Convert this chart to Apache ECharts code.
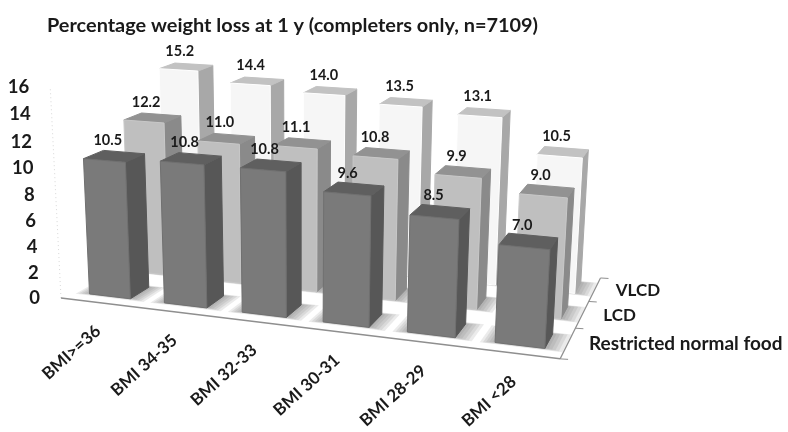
<!DOCTYPE html>
<html>
<head>
<meta charset="utf-8">
<style>html,body{margin:0;padding:0;background:#fff}#c{width:788px;height:432px}</style>
<script src="https://cdn.jsdelivr.net/npm/echarts@6/dist/echarts.min.js"></script>
</head>
<body>
<div id="c"></div>
<script>
const titleText = 'Percentage weight loss at 1 y (completers only, n=7109)';
const categories = ['BMI>=36', 'BMI 34-35', 'BMI 32-33', 'BMI 30-31', 'BMI 28-29', 'BMI <28'];
const rowNames = ['Restricted normal food', 'LCD', 'VLCD'];
const rowFontSizes = [19, 17, 17];
const restricted = [10.5, 10.8, 10.8, 9.6, 8.5, 7.0];
const lcd = [12.2, 11.0, 11.1, 10.8, 9.9, 9.0];
const vlcd = [15.2, 14.4, 14.0, 13.5, 13.1, 10.5];
const valueTicks = [0, 2, 4, 6, 8, 10, 12, 14, 16];

// Perspective camera: homogeneous columns for world X (category), Y (value), Z (depth)
const CX = [72.5, 3.30, -0.01907], CY = [-0.806, -13.41, -0.00266], CZ = [50.9, -5.84, 0.0649], O = [61, 298, 1];
function P(X, Y, Z) {
  const h = [0, 1, 2].map(k => O[k] + X * CX[k] + Y * CY[k] + Z * CZ[k]);
  return [h[0] / h[2] - 2.3 * Z * Math.max(0, 1 - X / 5), h[1] / h[2] - 0.165 * Y * Z];
}
const BAR_X = [0.24, 0.79], BAR_Z = [0.25, 0.72];
const FONT = 'Lato, "Open Sans", sans-serif';
const SHADOW_SPREAD = [0.20, 0.16, 0.12, 0.08, 0.04, 0];

const palette = [
  { front: '#7a7a7a', side: '#575757', top: '#5f5f5f', stroke: '#707070' },
  { front: '#bfbfbf', side: '#8a8a8a', top: '#929292', stroke: '#c8c8c8' },
  { front: '#f6f6f6', side: '#a8a8a8', top: '#c2c2c2', stroke: '#ffffff' }
];

function barSeries(name, values, row) {
  const col = palette[row];
  return {
    name, type: 'custom', coordinateSystem: 'none', silent: true, animation: false, clip: false,
    data: values.map((v, i) => [i, v]),
    renderItem(params, api) {
      const i = api.value(0), v = api.value(1);
      const x0 = i + BAR_X[0], x1 = i + BAR_X[1], z0 = row + BAR_Z[0], z1 = row + BAR_Z[1];
      const poly = (pts, fill, stroke) => ({
        type: 'polygon', shape: { points: pts },
        style: { fill, stroke: stroke || fill, lineWidth: 1 }
      });
      const mid = P((x0 + x1) / 2, v, (z0 + z1) / 2);
      const shadows = SHADOW_SPREAD.map(s => ({
        type: 'polygon',
        shape: { points: [P(x0 - s * 0.8, 0, z0 - s * 0.4 + 0.03), P(x1 + s, 0, z0 - s * 0.4 + 0.03), P(x1 + s, 0, z1 + s * 0.3), P(x0 - s * 0.8, 0, z1 + s * 0.3)] },
        style: { fill: 'rgba(110,110,110,0.14)' }
      }));
      return {
        type: 'group',
        children: shadows.concat([
          poly([P(x1, 0, z0), P(x1, 0, z1), P(x1, v, z1), P(x1, v, z0)], col.side),
          poly([P(x0, v, z0), P(x1, v, z0), P(x1, v, z1), P(x0, v, z1)], col.top),
          poly([P(x0, 0, z0), P(x1, 0, z0), P(x1, v, z0), P(x0, v, z0)], col.front, col.stroke),
          {
            type: 'text', z2: 50,
            style: {
              text: v.toFixed(1), x: mid[0] - 6.5, y: mid[1] - 16, align: 'center', verticalAlign: 'middle',
              fill: '#1a1a1a', font: '700 14.5px ' + FONT
            }
          }
        ])
      };
    }
  };
}

const frameSeries = {
  type: 'custom', coordinateSystem: 'none', silent: true, animation: false,
  data: [0],
  renderItem() {
    const line = (a, b, stroke, lineWidth, lineDash) => ({
      type: 'line', shape: { x1: a[0], y1: a[1], x2: b[0], y2: b[1] },
      style: { stroke, lineWidth, lineDash }
    });
    const kids = [
      line(P(0, 0, 0), P(0, 16, 0), '#d9d9d9', 1, [1, 3]),
      line(P(0, 0, 0), P(6, 0, 0), '#8f8f8f', 1.5),
      line(P(6, 0, 0), P(6, 0, 3), '#8f8f8f', 1.2)
    ];
    for (let z = 0; z <= 3; z++) {
      const a = P(6, 0, z);
      kids.push(line(a, [a[0] + 8, a[1] + 0.5], '#8f8f8f', 1));
    }
    return { type: 'group', children: kids };
  }
};

const tickSeries = {
  type: 'custom', coordinateSystem: 'none', silent: true, animation: false,
  data: valueTicks.map(v => [v]),
  renderItem(params, api) {
    const v = api.value(0), p = P(0, v, 0);
    return {
      type: 'text',
      style: { text: String(v), x: p[0] - 21, y: p[1], align: 'right', verticalAlign: 'middle', fill: '#1a1a1a', font: '700 18.5px ' + FONT }
    };
  }
};

const categorySeries = {
  type: 'custom', coordinateSystem: 'none', silent: true, animation: false,
  data: categories.map((c, i) => [i]),
  renderItem(params, api) {
    const i = api.value(0), p = P(i + 0.5, 0, 0);
    return {
      type: 'text', x: p[0], y: p[1] + 26, rotation: 42 * Math.PI / 180,
      style: { text: categories[i], x: 0, y: 0, align: 'right', verticalAlign: 'middle', fill: '#1a1a1a', font: '700 17px ' + FONT }
    };
  }
};

const rowSeries = {
  type: 'custom', coordinateSystem: 'none', silent: true, animation: false,
  data: rowNames.map((n, j) => [j]),
  renderItem(params, api) {
    const j = api.value(0), p = P(6, 0, j + 0.5);
    return {
      type: 'text',
      style: { text: rowNames[j], x: p[0] + 21, y: p[1] + 1, align: 'left', verticalAlign: 'middle', fill: '#1a1a1a', font: '700 ' + rowFontSizes[j] + 'px ' + FONT }
    };
  }
};

const chart = echarts.init(document.getElementById('c'), null, { renderer: 'canvas' });
chart.setOption({
  backgroundColor: '#fff',
  animation: false,
  title: {
    text: titleText, left: 42, top: 11,
    textStyle: { fontFamily: 'Lato, "Open Sans", sans-serif', fontSize: 19.9, fontWeight: 700, color: '#1a1a1a' }
  },
  series: [
    frameSeries,
    barSeries('VLCD', vlcd, 2),
    barSeries('LCD', lcd, 1),
    barSeries('Restricted normal food', restricted, 0),
    tickSeries, categorySeries, rowSeries
  ]
});
</script>
</body>
</html>
